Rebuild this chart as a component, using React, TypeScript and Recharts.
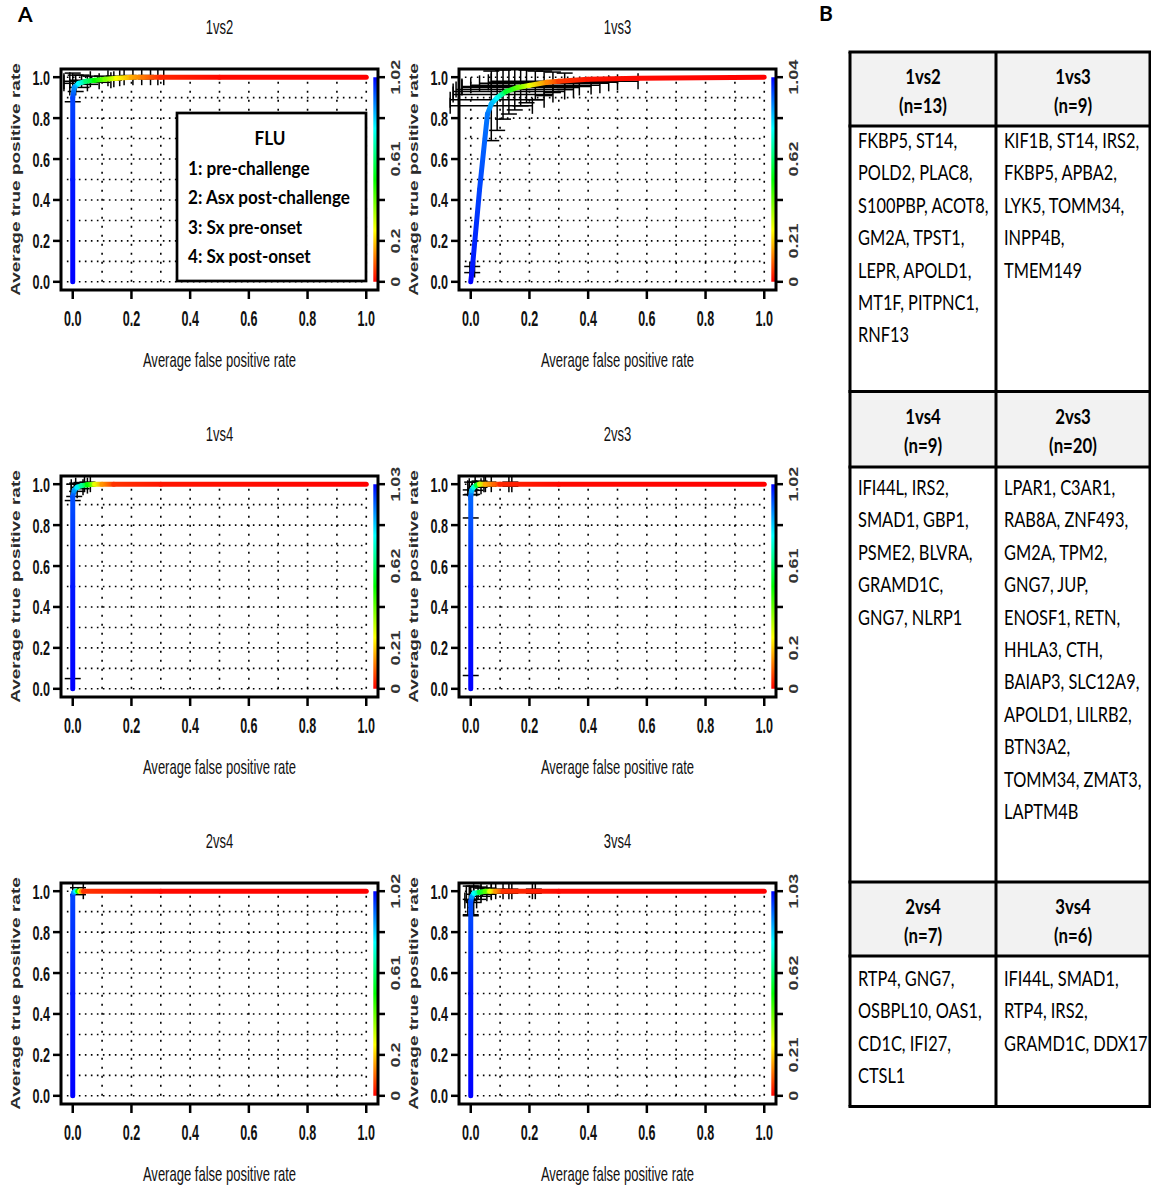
import React from 'react';
import {
  ComposedChart,
  Line,
  Scatter,
  ErrorBar,
  XAxis,
  YAxis,
  ReferenceLine,
  ReferenceArea,
} from 'recharts';

// ---------- shared axis values ----------
const AXIS_TICKS = [0, 0.2, 0.4, 0.6, 0.8, 1.0];
const GRID_STEPS = [0, 0.1, 0.2, 0.3, 0.4, 0.5, 0.6, 0.7, 0.8, 0.9, 1.0];
const DOMAIN: [number, number] = [-0.04, 1.04];

// ---------- 1vs2 ----------
const FPR_1VS2 = [0, 0, 0, 0.005, 0.02, 0.045, 0.075, 0.11, 0.15, 0.2, 0.24, 0.3, 0.5, 1.0];
const TPR_1VS2 = [0, 0.5, 0.9, 0.95, 0.97, 0.98, 0.985, 0.99, 0.995, 1, 1, 1, 1, 1];
const CUT_1VS2 = [1.02, 1.0, 0.95, 0.88, 0.77, 0.63, 0.51, 0.39, 0.26, 0.17, 0.12, 0.04, 0.01, 0];
const ERR_FPR_1VS2 = [0, 0.01, 0.03, 0.06, 0.1, 0.14, 0.19, 0.25, 0.3];
const ERR_TPR_1VS2 = [0.95, 0.97, 0.98, 0.985, 0.99, 0.995, 1, 1, 1];
const SD_FPR_1VS2 = [0.01, 0.04, 0.06, 0.07, 0.04, 0.02, 0.015, 0.015, 0.01];
const SD_TPR_1VS2 = [0.07, 0.04, 0.03, 0.02, 0.015, 0.01, 0.008, 0.008, 0.005];
const KEY_1VS2 = ['0', '0.2', '', '0.61', '', '1.02'];

// ---------- 1vs3 ----------
const FPR_1VS3 = [0, 0.005, 0.03, 0.057, 0.07, 0.09, 0.12, 0.16, 0.2, 0.26, 0.3, 0.4, 0.57, 1];
const TPR_1VS3 = [0, 0.06, 0.45, 0.82, 0.87, 0.9, 0.93, 0.95, 0.96, 0.975, 0.98, 0.99, 0.995, 1];
const CUT_1VS3 = [1.04, 1.02, 0.97, 0.92, 0.86, 0.78, 0.57, 0.42, 0.28, 0.14, 0.06, 0.02, 0.01, 0];
const ERR_FPR_1VS3 = [0.005, 0.07, 0.09, 0.11, 0.13, 0.15, 0.17, 0.19, 0.22, 0.25, 0.28, 0.32];
const ERR_TPR_1VS3 = [0.06, 0.86, 0.89, 0.915, 0.93, 0.94, 0.95, 0.955, 0.96, 0.97, 0.975, 0.98];
const SD_FPR_1VS3 = [0.008, 0.14, 0.16, 0.17, 0.19, 0.2, 0.2, 0.22, 0.22, 0.22, 0.22, 0.25];
const SD_TPR_1VS3 = [0.015, 0.17, 0.15, 0.12, 0.11, 0.1, 0.09, 0.08, 0.07, 0.06, 0.05, 0.04];
const KEY_1VS3 = ['0', '0.21', '', '0.62', '', '1.04'];

// ---------- 1vs4 ----------
const FPR_1VS4 = [0, 0, 0, 0.005, 0.015, 0.03, 0.05, 0.075, 0.1, 0.14, 0.3, 1];
const TPR_1VS4 = [0, 0.5, 0.94, 0.97, 0.985, 0.993, 0.997, 1, 1, 1, 1, 1];
const CUT_1VS4 = [1.03, 1.01, 0.95, 0.88, 0.79, 0.67, 0.52, 0.28, 0.15, 0.05, 0.02, 0];
const ERR_FPR_1VS4 = [0, 0.005, 0.015, 0.03, 0.05];
const ERR_TPR_1VS4 = [0.485, 0.97, 0.985, 0.993, 1];
const SD_FPR_1VS4 = [0.003, 0.01, 0.02, 0.02, 0.01];
const SD_TPR_1VS4 = [0.435, 0.03, 0.02, 0.015, 0.01];
const KEY_1VS4 = ['0', '0.21', '', '0.62', '', '1.03'];

// ---------- 2vs3 ----------
const FPR_2VS3 = [0, 0, 0, 0.003, 0.01, 0.02, 0.03, 0.05, 0.08, 0.1, 0.3, 1];
const TPR_2VS3 = [0, 0.5, 0.94, 0.97, 0.985, 0.995, 1, 1, 1, 1, 1, 1];
const CUT_2VS3 = [1.02, 1.0, 0.92, 0.84, 0.73, 0.56, 0.31, 0.17, 0.1, 0.04, 0.01, 0];
const ERR_FPR_2VS3 = [0, 0, 0.005, 0.015, 0.03, 0.06, 0.135];
const ERR_TPR_2VS3 = [0.45, 0.96, 0.98, 0.99, 1, 1, 1];
const SD_FPR_2VS3 = [0.003, 0.005, 0.015, 0.02, 0.015, 0.01, 0.005];
const SD_TPR_2VS3 = [0.385, 0.012, 0.03, 0.02, 0.015, 0.01, 0.01];
const KEY_2VS3 = ['0', '0.2', '', '0.61', '', '1.02'];

// ---------- 2vs4 ----------
const FPR_2VS4 = [0, 0, 0, 0.004, 0.01, 0.017, 0.024, 0.03, 0.037, 0.3, 1];
const TPR_2VS4 = [0, 0.5, 0.98, 0.995, 1, 1, 1, 1, 1, 1, 1];
const CUT_2VS4 = [1.02, 1.0, 0.95, 0.87, 0.77, 0.51, 0.28, 0.15, 0.05, 0.01, 0];
const ERR_FPR_2VS4 = [0.018];
const ERR_TPR_2VS4 = [1];
const SD_FPR_2VS4 = [0.018];
const SD_TPR_2VS4 = [0.017];
const KEY_2VS4 = ['0', '0.2', '', '0.61', '', '1.02'];

// ---------- 3vs4 ----------
const FPR_3VS4 = [0, 0, 0, 0.004, 0.011, 0.03, 0.05, 0.065, 0.085, 0.11, 0.3, 1];
const TPR_3VS4 = [0, 0.5, 0.95, 0.975, 0.99, 0.995, 1, 1, 1, 1, 1, 1];
const CUT_3VS4 = [1.03, 1.01, 0.95, 0.88, 0.77, 0.57, 0.43, 0.28, 0.15, 0.05, 0.01, 0];
const ERR_FPR_3VS4 = [0, 0, 0.01, 0.025, 0.04, 0.06, 0.09, 0.135, 0.215];
const ERR_TPR_3VS4 = [0.92, 0.955, 0.985, 0.99, 0.995, 1, 1, 1, 1];
const SD_FPR_3VS4 = [0.01, 0.02, 0.025, 0.03, 0.03, 0.025, 0.02, 0.005, 0.005];
const SD_TPR_3VS4 = [0.04, 0.07, 0.04, 0.03, 0.02, 0.015, 0.01, 0.01, 0.01];
const KEY_3VS4 = ['0', '0.21', '', '0.62', '', '1.03'];

// ---------- legend + gene table ----------
const LEGEND_TITLE = 'FLU';
const LEGEND_ITEMS = ['1: pre-challenge', '2: Asx post-challenge', '3: Sx pre-onset', '4: Sx post-onset'];

const TABLE_HEADERS = [
  [['1vs2', '(n=13)'], ['1vs3', '(n=9)']],
  [['1vs4', '(n=9)'], ['2vs3', '(n=20)']],
  [['2vs4', '(n=7)'], ['3vs4', '(n=6)']],
];
const GENES_1VS2 = ['FKBP5, ST14,', 'POLD2, PLAC8,', 'S100PBP, ACOT8,', 'GM2A, TPST1,', 'LEPR, APOLD1,', 'MT1F, PITPNC1,', 'RNF13'];
const GENES_1VS3 = ['KIF1B, ST14, IRS2,', 'FKBP5, APBA2,', 'LYK5, TOMM34,', 'INPP4B,', 'TMEM149'];
const GENES_1VS4 = ['IFI44L, IRS2,', 'SMAD1, GBP1,', 'PSME2, BLVRA,', 'GRAMD1C,', 'GNG7, NLRP1'];
const GENES_2VS3 = ['LPAR1, C3AR1,', 'RAB8A, ZNF493,', 'GM2A, TPM2,', 'GNG7, JUP,', 'ENOSF1, RETN,', 'HHLA3, CTH,', 'BAIAP3, SLC12A9,', 'APOLD1, LILRB2,', 'BTN3A2,', 'TOMM34, ZMAT3,', 'LAPTM4B'];
const GENES_2VS4 = ['RTP4, GNG7,', 'OSBPL10, OAS1,', 'CD1C, IFI27,', 'CTSL1'];
const GENES_3VS4 = ['IFI44L, SMAD1,', 'RTP4, IRS2,', 'GRAMD1C, DDX17'];
const TABLE_GENES = [
  [GENES_1VS2, GENES_1VS3],
  [GENES_1VS4, GENES_2VS3],
  [GENES_2VS4, GENES_3VS4],
];

// ---------- layout ----------
const W = 420;
const H = 380;
const BL = 61; // plot box left inside a chart
const BT = 69; // plot box top inside a chart
const BOX_W = 317;
const BOX_H = 221;
const YLW = 45;
const YRW = 30;
const XH = 30;
const MARGIN = { left: BL - YLW, top: BT, right: W - BL - BOX_W - YRW, bottom: H - BT - BOX_H - XH };
const COL_BOX_LEFT = [61, 459];
const ROW_BOX_TOP = [69, 476, 883];

const PLOT_FONT = "'Liberation Sans', Arial, Helvetica, sans-serif";
const TEXT_FONT = "Lato, 'Open Sans', sans-serif";

type PanelDef = {
  id: string;
  title: string;
  col: number;
  row: number;
  fpr: number[];
  tpr: number[];
  cut: number[];
  errFpr: number[];
  errTpr: number[];
  sdFpr: number[];
  sdTpr: number[];
  key: string[];
};

const PANELS: PanelDef[] = [
  { id: 'p12', title: '1vs2', col: 0, row: 0, fpr: FPR_1VS2, tpr: TPR_1VS2, cut: CUT_1VS2, errFpr: ERR_FPR_1VS2, errTpr: ERR_TPR_1VS2, sdFpr: SD_FPR_1VS2, sdTpr: SD_TPR_1VS2, key: KEY_1VS2 },
  { id: 'p13', title: '1vs3', col: 1, row: 0, fpr: FPR_1VS3, tpr: TPR_1VS3, cut: CUT_1VS3, errFpr: ERR_FPR_1VS3, errTpr: ERR_TPR_1VS3, sdFpr: SD_FPR_1VS3, sdTpr: SD_TPR_1VS3, key: KEY_1VS3 },
  { id: 'p14', title: '1vs4', col: 0, row: 1, fpr: FPR_1VS4, tpr: TPR_1VS4, cut: CUT_1VS4, errFpr: ERR_FPR_1VS4, errTpr: ERR_TPR_1VS4, sdFpr: SD_FPR_1VS4, sdTpr: SD_TPR_1VS4, key: KEY_1VS4 },
  { id: 'p23', title: '2vs3', col: 1, row: 1, fpr: FPR_2VS3, tpr: TPR_2VS3, cut: CUT_2VS3, errFpr: ERR_FPR_2VS3, errTpr: ERR_TPR_2VS3, sdFpr: SD_FPR_2VS3, sdTpr: SD_TPR_2VS3, key: KEY_2VS3 },
  { id: 'p24', title: '2vs4', col: 0, row: 2, fpr: FPR_2VS4, tpr: TPR_2VS4, cut: CUT_2VS4, errFpr: ERR_FPR_2VS4, errTpr: ERR_TPR_2VS4, sdFpr: SD_FPR_2VS4, sdTpr: SD_TPR_2VS4, key: KEY_2VS4 },
  { id: 'p34', title: '3vs4', col: 1, row: 2, fpr: FPR_3VS4, tpr: TPR_3VS4, cut: CUT_3VS4, errFpr: ERR_FPR_3VS4, errTpr: ERR_TPR_3VS4, sdFpr: SD_FPR_3VS4, sdTpr: SD_TPR_3VS4, key: KEY_3VS4 },
];

// rainbow palette: red (low cutoff) -> blue (high cutoff)
const rainbow = (t: number) => `hsl(${Math.round(240 * Math.max(0, Math.min(1, t)))}, 100%, 50%)`;

function StretchText(props: {
  x: number; y: number; size: number; sx: number; anchor?: string; weight?: string | number;
  fill?: string; rot?: number; family?: string; children: React.ReactNode;
}) {
  const { x, y, size, sx, anchor = 'middle', weight = 'normal', fill = '#111', rot = 0, family = PLOT_FONT, children } = props;
  const tf = `translate(${x},${y}) scale(${sx},1)` + (rot ? ` rotate(${rot})` : '');
  return (
    <text transform={tf} textAnchor={anchor as any} fontSize={size} fontWeight={weight} fill={fill} fontFamily={family}>
      {children}
    </text>
  );
}

const XTick = (props: any) => {
  const { x, y, payload } = props;
  return (
    <StretchText x={x} y={y + 25} size={22} sx={0.57} weight="bold">
      {Number(payload.value).toFixed(1)}
    </StretchText>
  );
};

const YTick = (props: any) => {
  const { x, y, payload } = props;
  return (
    <StretchText x={x - 1} y={y + 7.5} size={21} sx={0.6} weight="bold" anchor="end">
      {Number(payload.value).toFixed(1)}
    </StretchText>
  );
};

const makeKeyTick = (labels: string[]) => (props: any) => {
  const { x, y, payload } = props;
  const idx = AXIS_TICKS.indexOf(payload.value);
  const txt = idx >= 0 ? labels[idx] : '';
  return (
    <StretchText x={x + 13} y={y} size={18} sx={0.72} weight="bold" fill="#333" rot={-90}>
      {txt}
    </StretchText>
  );
};

const makeXLabel = (title: string) => (props: any) => {
  const vb = props.viewBox || { x: BL, y: BT + BOX_H, width: BOX_W, height: XH };
  const cx = vb.x + vb.width / 2;
  return (
    <g>
      <StretchText x={cx} y={vb.y + 77} size={21} sx={0.62}>Average false positive rate</StretchText>
      <StretchText x={cx} y={vb.y - BOX_H - 35} size={21} sx={0.62}>{title}</StretchText>
    </g>
  );
};

const YLabel = (props: any) => {
  const vb = props.viewBox || { x: BL - YLW, y: BT, width: YLW, height: BOX_H };
  return (
    <StretchText x={vb.x + vb.width - 41} y={vb.y + vb.height / 2} size={19} sx={0.65} weight="bold" fill="#2a2a2a" rot={-90}>
      Average true positive rate
    </StretchText>
  );
};

function RocPanel({ p }: { p: PanelDef }) {
  const curve = p.fpr.map((x, i) => ({ x, y: p.tpr[i], cut: p.cut[i] }));
  const errs = p.errFpr.map((x, i) => ({ x, y: p.errTpr[i], sx: p.sdFpr[i], sy: p.sdTpr[i] }));
  const maxCut = Math.max(...p.cut);
  const seen: Record<number, { x: number; y: number }> = {};

  // each dot draws the curve segment to its neighbour, shaded from one cutoff colour to the next
  const renderSegment = (props: any) => {
    const { index, points, cx, cy } = props;
    let a: { x: number; y: number } | undefined;
    let b: { x: number; y: number } | undefined;
    let i0 = index;
    if (points && points.length) {
      if (index >= points.length - 1) return <g key={`${p.id}-d${index}`} />;
      a = points[index];
      b = points[index + 1];
    } else {
      seen[index] = { x: cx, y: cy };
      if (index === 0 || !seen[index - 1]) return <g key={`${p.id}-d${index}`} />;
      a = seen[index - 1];
      b = seen[index];
      i0 = index - 1;
    }
    const gid = `${p.id}-seg-${i0}`;
    const c0 = rainbow(curve[i0].cut / maxCut);
    const c1 = rainbow(curve[i0 + 1].cut / maxCut);
    return (
      <g key={gid}>
        <defs>
          <linearGradient id={gid} gradientUnits="userSpaceOnUse" x1={a!.x} y1={a!.y} x2={b!.x} y2={b!.y}>
            <stop offset="0" stopColor={c0} />
            <stop offset="1" stopColor={c1} />
          </linearGradient>
        </defs>
        <line x1={a!.x} y1={a!.y} x2={b!.x} y2={b!.y} stroke={`url(#${gid})`} strokeWidth={5} strokeLinecap="round" />
      </g>
    );
  };

  return (
    <ComposedChart width={W} height={H} margin={MARGIN}>
      <XAxis
        dataKey="x"
        type="number"
        domain={DOMAIN}
        ticks={AXIS_TICKS}
        interval={0}
        allowDataOverflow
        axisLine={false}
        tickLine={{ stroke: '#000', strokeWidth: 2.5 }}
        tickSize={9}
        height={XH}
        tick={XTick}
        label={makeXLabel(p.title)}
      />
      <YAxis
        dataKey="y"
        type="number"
        domain={DOMAIN}
        ticks={AXIS_TICKS}
        interval={0}
        allowDataOverflow
        axisLine={false}
        tickLine={{ stroke: '#000', strokeWidth: 2.5 }}
        tickSize={8}
        width={YLW}
        tick={YTick}
        label={YLabel}
      />
      <YAxis
        yAxisId="r"
        orientation="right"
        type="number"
        domain={DOMAIN}
        ticks={AXIS_TICKS}
        interval={0}
        allowDataOverflow
        axisLine={false}
        tickLine={{ stroke: '#000', strokeWidth: 2.5 }}
        tickSize={7}
        width={YRW}
        tick={makeKeyTick(p.key)}
      />
      {GRID_STEPS.map((v) => (
        <ReferenceLine
          key={`h${v}`}
          segment={[{ x: -0.02, y: v }, { x: 1, y: v }]}
          stroke="#000"
          strokeWidth={1.6}
          strokeDasharray="1.6 4.4"
        />
      ))}
      {GRID_STEPS.map((v) => (
        <ReferenceLine
          key={`v${v}`}
          segment={[{ x: v, y: 0 }, { x: v, y: 1 }]}
          stroke="#000"
          strokeWidth={1.6}
          strokeDasharray="2 7"
        />
      ))}
      <ReferenceArea yAxisId="r" x1={1.024} x2={1.037} y1={0} y2={1} fill="url(#cutoffKey)" fillOpacity={1} stroke="none" />
      <Scatter data={errs} dataKey="y" isAnimationActive={false} shape={() => <g />} legendType="none">
        <ErrorBar dataKey="sx" direction="x" stroke="#000" strokeWidth={1.5} width={8} />
        <ErrorBar dataKey="sy" direction="y" stroke="#000" strokeWidth={1.5} width={8} />
      </Scatter>
      <Line
        data={curve}
        dataKey="y"
        stroke="none"
        strokeWidth={0}
        isAnimationActive={false}
        dot={renderSegment}
        activeDot={false}
        legendType="none"
      />
      <ReferenceArea x1={-0.04} x2={1.04} y1={-0.04} y2={1.04} fill="none" stroke="#000" strokeWidth={3} />
    </ComposedChart>
  );
}

function Overlay() {
  const colX = [850, 996, 1150];
  const blocks = [
    { top: 52, hb: 126, bottom: 391.5, base: 148 },
    { top: 391.5, hb: 467, bottom: 882, base: 495 },
    { top: 882, hb: 956, bottom: 1106.5, base: 986 },
  ];
  const pitch = 32.4;
  const hLines = [52, 126, 391.5, 467, 882, 956, 1106.5];
  return (
    <svg width={1151} height={1186} style={{ position: 'absolute', left: 0, top: 0, pointerEvents: 'none' }}>
      {/* panel letters */}
      <StretchText x={18} y={22} size={21} sx={1} weight="bold" anchor="start" family={TEXT_FONT} fill="#000">A</StretchText>
      <StretchText x={819} y={21} size={21} sx={1} weight="bold" anchor="start" family={TEXT_FONT} fill="#000">B</StretchText>

      {/* group legend inside 1vs2 */}
      <rect x={177} y={113} width={189} height={168} fill="#fff" stroke="#000" strokeWidth={2.7} />
      <StretchText x={270} y={145} size={19} sx={0.9} weight="bold" family={TEXT_FONT} fill="#000">{LEGEND_TITLE}</StretchText>
      {LEGEND_ITEMS.map((t, i) => (
        <StretchText key={t} x={188} y={175 + i * 29.4} size={19} sx={0.9} weight="bold" anchor="start" family={TEXT_FONT} fill="#000">
          {t}
        </StretchText>
      ))}

      {/* gene table */}
      {blocks.map((b, bi) => (
        <rect key={`hd${bi}`} x={colX[0]} y={b.top} width={colX[2] - colX[0]} height={b.hb - b.top} fill="#f2f2f2" />
      ))}
      {hLines.map((y) => (
        <line key={`hl${y}`} x1={colX[0] - 1.5} x2={colX[2] + 1.5} y1={y} y2={y} stroke="#000" strokeWidth={3} />
      ))}
      {colX.map((x) => (
        <line key={`vl${x}`} x1={x} x2={x} y1={52} y2={1106.5} stroke="#000" strokeWidth={3} />
      ))}
      {blocks.map((b, bi) =>
        [0, 1].map((c) => {
          const cx = (colX[c] + colX[c + 1]) / 2;
          const [h1, h2] = TABLE_HEADERS[bi][c];
          return (
            <g key={`th${bi}-${c}`}>
              <StretchText x={cx} y={b.top + 32} size={21} sx={0.8} weight="bold" family={TEXT_FONT} fill="#000">{h1}</StretchText>
              <StretchText x={cx} y={b.top + 61} size={21} sx={0.8} weight="bold" family={TEXT_FONT} fill="#000">{h2}</StretchText>
              {TABLE_GENES[bi][c].map((line, li) => (
                <StretchText key={line} x={colX[c] + 8} y={b.base + li * pitch} size={21} sx={0.78} anchor="start" family={TEXT_FONT} fill="#000">
                  {line}
                </StretchText>
              ))}
            </g>
          );
        })
      )}
    </svg>
  );
}

export default function App() {
  return (
    <div style={{ position: 'absolute', left: 0, top: 0, width: 1151, height: 1186, background: '#fff', overflow: 'hidden' }}>
      <svg width={0} height={0} style={{ position: 'absolute' }}>
        <defs>
          <linearGradient id="cutoffKey" x1="0" y1="1" x2="0" y2="0">
            <stop offset="0" stopColor="hsl(0,100%,50%)" />
            <stop offset="0.25" stopColor="hsl(60,100%,50%)" />
            <stop offset="0.5" stopColor="hsl(120,100%,50%)" />
            <stop offset="0.75" stopColor="hsl(180,100%,50%)" />
            <stop offset="1" stopColor="hsl(240,100%,50%)" />
          </linearGradient>
        </defs>
      </svg>
      {PANELS.map((p) => (
        <div
          key={p.id}
          style={{ position: 'absolute', left: COL_BOX_LEFT[p.col] - BL, top: ROW_BOX_TOP[p.row] - BT, width: W, height: H }}
        >
          <RocPanel p={p} />
        </div>
      ))}
      <Overlay />
    </div>
  );
}
